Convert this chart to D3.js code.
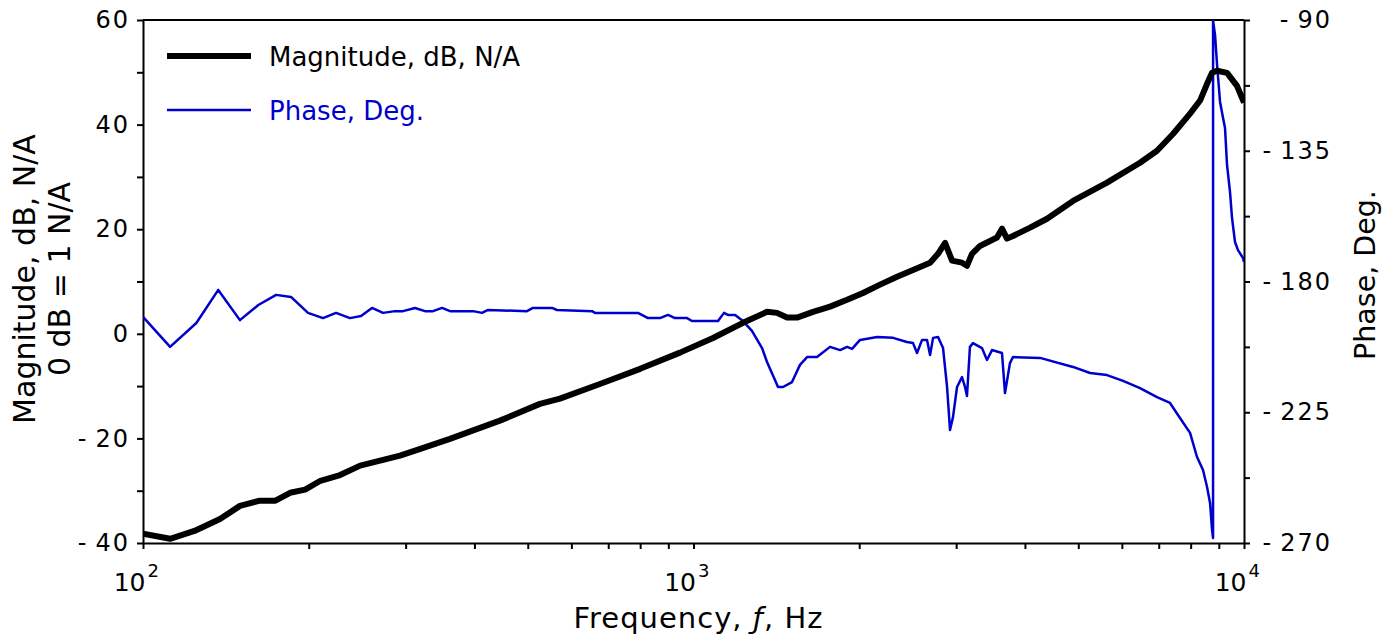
<!DOCTYPE html>
<html>
<head>
<meta charset="utf-8">
<script src="https://cdn.jsdelivr.net/npm/d3@7/dist/d3.min.js"></script>
<style>
  html, body { margin: 0; padding: 0; background: #ffffff; }
  svg { display: block; }
  text { font-family: "DejaVu Sans", Verdana, sans-serif; }
</style>
</head>
<body>
<svg id="chart" width="1394" height="641"></svg>
<script>
// ---- data ----
const magnitude = [ // [frequency Hz, magnitude dB]
  [100, -38.2], [112, -39.2], [124, -37.7], [138, -35.4], [150, -32.9], [163, -31.9],
  [174, -31.9], [185, -30.4], [197, -29.8], [210, -28.1], [228, -27.0], [248, -25.2],
  [293, -23.3], [319, -22.0], [361, -20.1], [445, -16.6], [526, -13.4], [572, -12.4],
  [676, -9.6], [800, -6.7], [945, -3.6], [1085, -0.8], [1230, 2.1], [1360, 4.2],
  [1418, 4.0], [1479, 3.1], [1542, 3.1], [1649, 4.2], [1770, 5.2], [1901, 6.5],
  [2032, 7.8], [2182, 9.4], [2343, 10.9], [2505, 12.2], [2690, 13.6], [2781, 15.3],
  [2864, 17.4], [2949, 14.0], [3074, 13.6], [3139, 13.0], [3205, 15.3], [3314, 16.8],
  [3559, 18.4], [3634, 20.1], [3711, 18.2], [3805, 18.7], [4087, 20.3], [4387, 22.0],
  [4891, 25.4], [5638, 28.9], [6473, 32.7], [6950, 35.0], [7430, 38.2], [7980, 42.1],
  [8321, 44.6], [8568, 47.8], [8749, 49.9], [8935, 50.3], [9315, 49.9], [9711, 47.4],
  [10000, 44.2]
];
const phase = [ // [frequency Hz, phase deg]
  [100, -192.2], [112, -202.5], [125, -194.3], [137, -182.9], [150, -193.3], [162, -188.1],
  [174.5, -184.6], [185.7, -185.3], [199.4, -190.8], [212.3, -192.6], [224.2, -190.8],
  [237.7, -192.6], [248.9, -191.9], [260.6, -189.1], [272.9, -190.8], [287, -190.2],
  [296.7, -190.2], [312, -189.1], [325.3, -190.2], [336.4, -190.2], [349.3, -189.1],
  [361.2, -190.2], [397.7, -190.2], [412.9, -190.8], [423.4, -189.8], [498.3, -190.2],
  [510.9, -189.1], [553.3, -189.1], [564.9, -189.8], [654.1, -190.2], [662.4, -190.8],
  [792.8, -190.8], [826.7, -192.6], [869.3, -192.6], [898.8, -191.5], [925.5, -192.6],
  [973.3, -192.6], [993.8, -193.6], [1108, -193.6], [1136, -190.8], [1155, -191.5],
  [1190, -191.5], [1225, -193.3], [1277, -197.0], [1332, -202.9], [1360, -207.7],
  [1406, -213.9], [1424, -216.3], [1454, -216.3], [1510, -214.6], [1561, -208.7],
  [1608, -206.0], [1676, -206.0], [1770, -202.5], [1846, -203.6], [1901, -202.5],
  [1941, -203.2], [2007, -200.1], [2155, -199.1], [2304, -199.4], [2442, -200.8],
  [2505, -201.2], [2547, -204.6], [2601, -200.1], [2656, -200.1], [2690, -205.3],
  [2724, -199.4], [2781, -199.1], [2840, -202.9], [2888, -216.3], [2924, -231.1],
  [2961, -226.6], [3011, -216.3], [3074, -212.9], [3113, -216.3], [3139, -219.4],
  [3178, -202.5], [3219, -201.2], [3342, -202.9], [3413, -207.0], [3485, -203.6],
  [3634, -204.6], [3680, -218.4], [3757, -208.1], [3805, -206.0], [4261, -206.3],
  [4891, -209.4], [5253, -211.5], [5638, -212.2], [6029, -214.2], [6473, -216.7],
  [6950, -219.8], [7338, -221.8], [7651, -227.0], [7980, -232.1], [8216, -240.4],
  [8425, -244.9], [8568, -250.7], [8676, -256.2], [8749, -265.5], [8786, -268.3],
  [8787, -90.3], [8860, -95.2], [8935, -105.5], [9047, -118.2], [9161, -123.7],
  [9237, -127.2], [9315, -139.9], [9432, -149.2], [9511, -158.1], [9631, -166.4],
  [9752, -169.2], [9958, -171.9], [10000, -173.3]
];
const magTicks = [-40, -30, -20, -10, 0, 10, 20, 30, 40, 50, 60];
const magTickLabels = [-40, -20, 0, 20, 40, 60];
const phaseTicks = [-270, -247.5, -225, -202.5, -180, -157.5, -135, -112.5, -90];
const phaseTickLabels = [-270, -225, -180, -135, -90];
const freqTicks = [100, 200, 300, 400, 500, 600, 700, 800, 900,
                   1000, 2000, 3000, 4000, 5000, 6000, 7000, 8000, 9000, 10000];
const freqDecades = [{value: 100, exp: "2"}, {value: 1000, exp: "3"}, {value: 10000, exp: "4"}];
const legendItems = [
  {label: "Magnitude, dB, N/A", color: "#000000", width: 6},
  {label: "Phase, Deg.", color: "#0000cc", width: 2.5}
];

// ---- layout ----
const margin = {left: 143, right: 150, top: 20, bottom: 98};
const W = 1394, H = 641;
const svg = d3.select("#chart");
const x0 = margin.left, x1 = W - margin.right, y0 = margin.top, y1 = H - margin.bottom;

const x = d3.scaleLog().domain([100, 10000]).range([x0, x1]);
const yMag = d3.scaleLinear().domain([-40, 60]).range([y1, y0]);
const yPh = d3.scaleLinear().domain([-270, -90]).range([y1, y0]);

svg.append("rect").attr("width", W).attr("height", H).attr("fill", "#fff");

svg.append("defs").append("clipPath").attr("id", "plotclip")
  .append("rect").attr("x", x0).attr("y", y0).attr("width", x1 - x0).attr("height", y1 - y0);

// top frame line
svg.append("line").attr("x1", x0).attr("x2", x1).attr("y1", y0).attr("y2", y0)
  .attr("stroke", "#000").attr("stroke-width", 2);

const tickFont = 24;
function styleAxis(g) {
  g.select(".domain").attr("stroke", "#000").attr("stroke-width", 2);
  g.selectAll(".tick line").attr("stroke", "#000").attr("stroke-width", 2);
  g.selectAll(".tick text").attr("fill", "#000")
    .style("font-family", '"DejaVu Sans", Verdana, sans-serif');
}
// tick label with spaced-out minus sign and slightly spaced digits
function spacedLabel(sel, anchorX) {
  sel.each(function(d) {
    const t = d3.select(this);
    const s = t.text();
    if (!s) return;
    t.text("").attr("x", anchorX).attr("text-anchor", "end")
      .style("font-size", tickFont + "px");
    if (s[0] === "-") {
      t.append("tspan").style("letter-spacing", "9px").text("-");
      t.append("tspan").style("letter-spacing", "2px").text(s.slice(1));
    } else {
      t.append("tspan").style("letter-spacing", "2px").text(s);
    }
  });
}

// left axis
const gL = svg.append("g").attr("transform", `translate(${x0},0)`)
  .call(d3.axisLeft(yMag).tickValues(magTicks).tickSize(6).tickSizeOuter(0).tickPadding(10)
    .tickFormat(d => magTickLabels.includes(d) ? String(d) : ""));
styleAxis(gL);
spacedLabel(gL.selectAll(".tick text"), -13);

// right axis
const gR = svg.append("g").attr("transform", `translate(${x1},0)`)
  .call(d3.axisRight(yPh).tickValues(phaseTicks).tickSize(6).tickSizeOuter(0).tickPadding(4)
    .tickFormat(d => phaseTickLabels.includes(d) ? String(d) : ""));
styleAxis(gR);
spacedLabel(gR.selectAll(".tick text"), 88);

// bottom axis
const gB = svg.append("g").attr("transform", `translate(0,${y1})`)
  .call(d3.axisBottom(x).tickValues(freqTicks).tickSize(6).tickSizeOuter(0).tickFormat(() => ""));
styleAxis(gB);
gB.selectAll(".tick").filter(d => freqDecades.some(e => e.value === d)).each(function(d) {
  const e = freqDecades.find(k => k.value === d);
  const g = d3.select(this);
  g.append("text").attr("x", 2).attr("y", 48).attr("text-anchor", "end")
    .attr("fill", "#000").style("font-size", "25px").text("10");
  g.append("text").attr("x", 4).attr("y", 34).attr("text-anchor", "start")
    .attr("fill", "#000").style("font-size", "18px").text(e.exp);
});

// axis titles
const xt = svg.append("text").attr("x", (x0 + x1) / 2 + 5).attr("y", 628)
  .attr("text-anchor", "middle").style("font-size", "29px").style("letter-spacing", "1px")
  .attr("fill", "#000");
xt.append("tspan").text("Frequency, ");
xt.append("tspan").style("font-style", "italic").text("ƒ");
xt.append("tspan").text(", Hz");

const ly = svg.append("text").attr("transform", "translate(35,279) rotate(-90)")
  .attr("text-anchor", "middle").style("font-size", "30px").attr("fill", "#000");
ly.append("tspan").attr("x", 0).attr("y", 0).text("Magnitude, dB, N/A");
ly.append("tspan").attr("x", 0).attr("y", 35).text("0 dB = 1 N/A");

svg.append("text").attr("transform", "translate(1375,275) rotate(-90)")
  .attr("text-anchor", "middle").style("font-size", "28.5px").attr("fill", "#000")
  .text("Phase, Deg.");

// lines
const plot = svg.append("g").attr("clip-path", "url(#plotclip)");
const magLine = d3.line().x(d => x(d[0])).y(d => yMag(d[1]));
const phLine = d3.line().x(d => x(d[0])).y(d => yPh(d[1]));

plot.append("path").datum(phase).attr("d", phLine)
  .attr("fill", "none").attr("stroke", legendItems[1].color)
  .attr("stroke-width", legendItems[1].width).attr("stroke-linejoin", "round");
plot.append("path").datum(magnitude).attr("d", magLine)
  .attr("fill", "none").attr("stroke", legendItems[0].color)
  .attr("stroke-width", legendItems[0].width).attr("stroke-linejoin", "round");

// legend
const lg = svg.append("g");
legendItems.forEach((it, i) => {
  const yy = 56 + i * 54;
  lg.append("line").attr("x1", 167).attr("x2", 251).attr("y1", yy).attr("y2", yy)
    .attr("stroke", it.color).attr("stroke-width", it.width);
  lg.append("text").attr("x", 269).attr("y", yy + 10).style("font-size", "26px")
    .attr("fill", it.color).text(it.label);
});
</script>
</body>
</html>
